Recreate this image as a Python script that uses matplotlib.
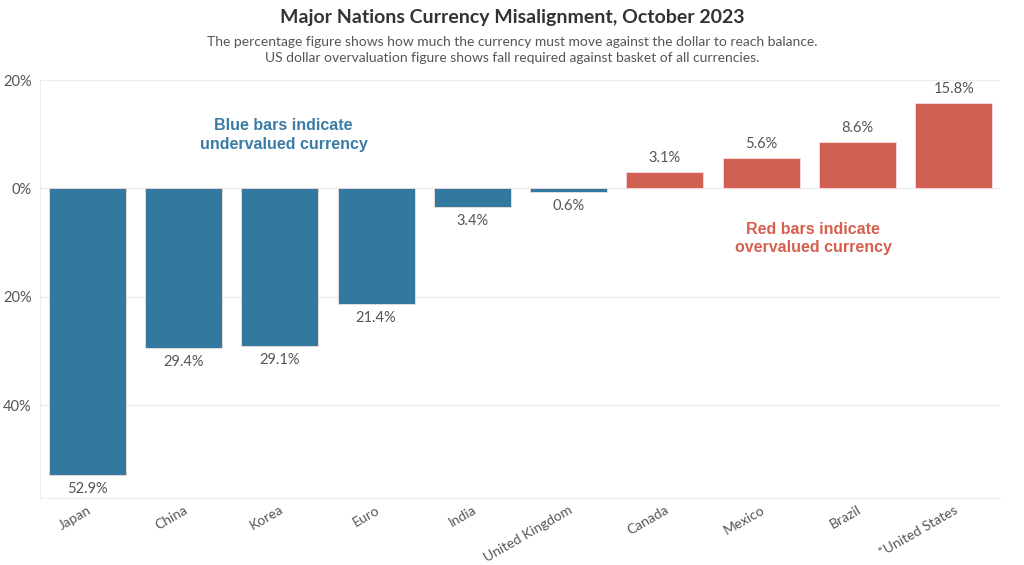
import matplotlib.pyplot as plt
import numpy as np

plt.rcParams['font.family'] = ['Lato', 'DejaVu Sans']

countries = ['Japan', 'China', 'Korea', 'Euro', 'India', 'United Kingdom',
             'Canada', 'Mexico', 'Brazil', '*United States']
misalignment = [-52.9, -29.4, -29.1, -21.4, -3.4, -0.6, 3.1, 5.6, 8.6, 15.8]
y_ticks = [20, 0, -20, -40]

BLUE = '#33789f'
RED = '#d06152'
GREY = '#555555'


def main():
    fig = plt.figure(figsize=(10.24, 5.65), dpi=100)
    ax = fig.add_axes([40 / 1024, 1 - 498 / 565, 960 / 1024, 418 / 565])

    x = np.arange(len(countries))
    vals = np.array(misalignment)
    colors = [BLUE if v < 0 else RED for v in vals]
    ax.bar(x, vals, width=0.8, color=colors, edgecolor='#f4dede', linewidth=0.6, zorder=3)

    # 値ラベル
    for xi, v in zip(x, vals):
        if v < 0:
            ax.text(xi, v - 1.3, f'{abs(v):.1f}%', ha='center', va='top', fontsize=10.5, color=GREY)
        else:
            ax.text(xi, v + 1.3, f'{v:.1f}%', ha='center', va='bottom', fontsize=10.5, color=GREY)

    ax.set_xlim(-0.49, 9.48)
    ax.set_ylim(-57.1, 20)
    ax.set_yticks(y_ticks)
    ax.set_yticklabels([f'{abs(t)}%' for t in y_ticks], fontsize=10.5, color=GREY)
    ax.set_xticks(x)
    ax.set_xticklabels(countries, rotation=30, ha='right', rotation_mode='anchor',
                       fontsize=10, color=GREY)
    ax.tick_params(axis='y', length=0, pad=6)
    ax.tick_params(axis='x', length=0, pad=4)
    ax.grid(axis='y', color='#eeeeee', linewidth=1, zorder=0)
    for side in ['top', 'right']:
        ax.spines[side].set_visible(False)
    ax.spines['left'].set_color('#eeeeee')
    ax.spines['bottom'].set_color('#eeeeee')

    ax.text(2.04, 9.8, 'Blue bars indicate\nundervalued currency', ha='center', va='center',
            fontsize=11.5, fontweight='bold', color='#3a7ca5', family='Liberation Sans',
            linespacing=1.3)
    ax.text(7.54, -9.2, 'Red bars indicate\novervalued currency', ha='center', va='center',
            fontsize=11.5, fontweight='bold', color='#d5604f', family='Liberation Sans',
            linespacing=1.3)

    fig.text(0.5, 1 - 17 / 565, 'Major Nations Currency Misalignment, October 2023',
             ha='center', va='center', fontsize=14, fontweight='bold', color='#333333')
    fig.text(0.5, 1 - 50 / 565,
             'The percentage figure shows how much the currency must move against the dollar to reach balance.\n'
             'US dollar overvaluation figure shows fall required against basket of all currencies.',
             ha='center', va='center', fontsize=10, color=GREY, linespacing=1.35)

    fig.savefig('out.png', dpi=100)
    plt.close(fig)


if __name__ == "__main__":
    main()
